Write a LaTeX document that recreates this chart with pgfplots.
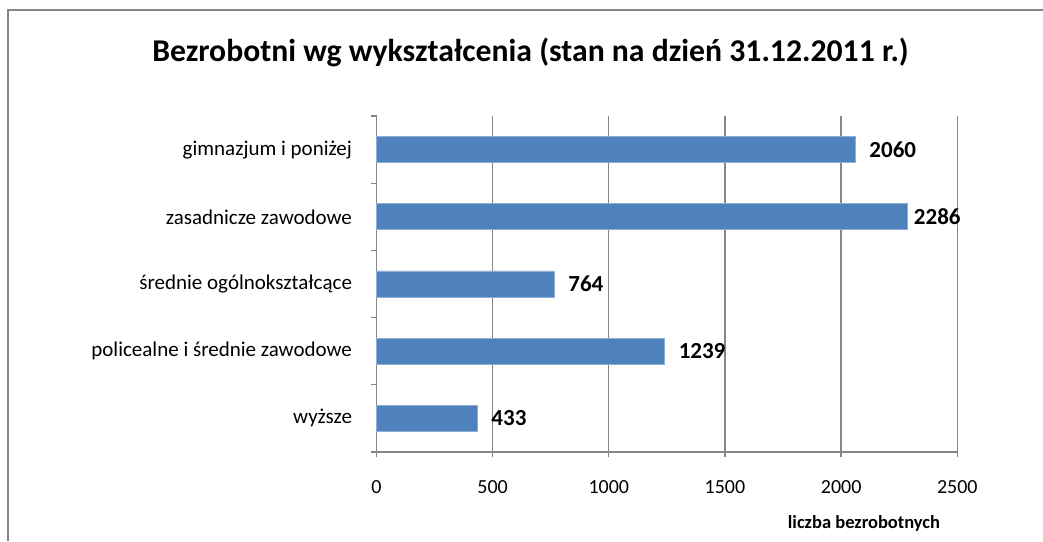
\documentclass[border=0pt]{standalone}
\usepackage{fontspec}
\setmainfont{Carlito}
\usepackage{pgfplots}
\pgfplotsset{compat=1.18}
\usepackage{pgfplotstable}
\definecolor{barblue}{HTML}{4F81BD}
\definecolor{baredge}{HTML}{8EADD6}
\definecolor{gridgray}{HTML}{868686}
\pgfplotstableread{
y value shift
0 433 14
1 1239 14
2 764 14
3 2286 6
4 2060 14
}\datatable
\begin{document}
\begin{tikzpicture}
\useasboundingbox (0,0) rectangle (1043pt,541pt);
\draw[gridgray, line width=1.3pt] (8pt,0) -- (8pt,531pt) -- (1043pt,531pt);
\node[font=\bfseries\fontsize{31.7}{36}\selectfont, anchor=base, inner sep=0pt] at (530.5pt,479.3pt) {Bezrobotni wg wykształcenia (stan na dzień 31.12.2011 r.)};
\begin{axis}[
  at={(376.5pt,89pt)}, anchor=south west,
  scale only axis, width=580.8pt, height=336pt,
  xmin=0, xmax=2500, ymin=-0.5, ymax=4.5,
  axis x line*=bottom, axis y line*=left,
  axis line style={gridgray, line width=1.3pt},
  xtick={0,500,...,2500},
  xmajorgrids, major grid style={gridgray, line width=1.3pt},
  ytick={0,...,4},
  yticklabels={wyższe, policealne i średnie zawodowe, średnie ogólnokształcące, zasadnicze zawodowe, gimnazjum i poniżej},
  major y tick style={draw=none},
  minor ytick={-0.5,0.5,...,4.5},
  minor y tick style={gridgray, line width=1.3pt},
  minor tick length=5.5pt, major tick length=5pt,
  tick align=outside,
  major x tick style={gridgray, line width=1.3pt},
  xticklabel style={font=\fontsize{20}{24}\selectfont, yshift=-20pt},
  yticklabel style={font=\fontsize{21}{25}\selectfont, xshift=-16pt},
  /pgf/number format/assume math mode=true,
  /pgf/number format/1000 sep={},
  clip=false,
]
\addplot[xbar, fill=barblue, draw=baredge, line width=0.8pt, bar width=26pt,
  nodes near coords, point meta=explicit,
  visualization depends on={\thisrow{shift} \as \labelshift},
  every node near coord/.append style={anchor=west, xshift=\labelshift, inner sep=0pt, font=\bfseries\fontsize{23}{26}\selectfont, text=black}]
  table[x=value, y=y, meta=value] {\datatable};
\end{axis}
\node[font=\bfseries\fontsize{18.5}{21}\selectfont, anchor=base, inner sep=0pt] at (864pt,13pt) {liczba bezrobotnych};
\end{tikzpicture}
\end{document}
